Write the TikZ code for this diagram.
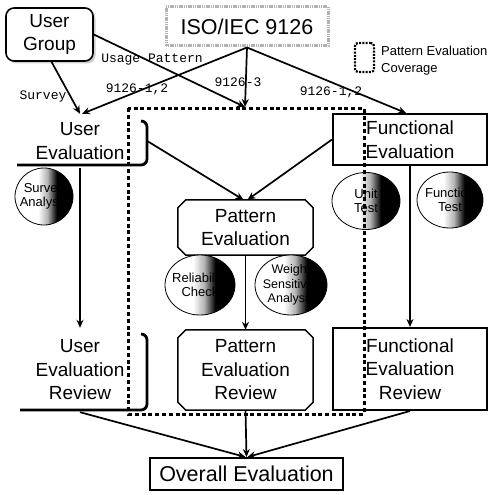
\documentclass[tikz,border=0pt]{standalone}
\usepackage{fontspec}
\setmainfont{Liberation Sans}
\newfontfamily\monofnt{Liberation Mono}
\usetikzlibrary{shapes.geometric,shapes.misc,arrows.meta,shadows}
\pgfdeclarehorizontalshading{ballshade}{100bp}{color(0bp)=(white); color(25bp)=(white); color(45bp)=(white); color(53bp)=(gray!60); color(61bp)=(black); color(75bp)=(black); color(100bp)=(black)}
\begin{document}
\begin{tikzpicture}[x=1pt,y=-1pt,
  big/.style={font=\fontsize{19}{23.5}\selectfont, align=center, inner sep=2pt},
  ugbox/.style={big, draw, line width=1.6pt, rounded corners=8pt, fill=white,
     minimum width=87pt, minimum height=53pt,
     drop shadow={shadow xshift=2.5pt, shadow yshift=-2.5pt, fill=gray!75}},
  isobox/.style={draw=gray!60, line width=3pt, dash pattern=on 1.2pt off 0.6pt,
     font=\fontsize{21.5}{25}\selectfont,
     minimum width=162pt, minimum height=39pt, inner sep=2pt},
  legendbox/.style={draw, line width=2.2pt, dash pattern=on 2pt off 1.3pt, rounded corners=3pt,
     minimum width=19pt, minimum height=29pt, inner sep=0pt},
  plainbox/.style={big, minimum width=134pt},
  pbox/.style={big, minimum width=135pt},
  pline/.style={line width=1.5pt},
  fbox/.style={big, draw, line width=2pt, minimum width=154pt},
  obox/.style={draw, line width=2pt, font=\fontsize{21.5}{25}\selectfont,
     minimum width=193pt, minimum height=32pt, inner sep=2pt},
  ushadow/.style={line width=2.8pt, rounded corners=6pt},
  ball/.style={ellipse, draw, line width=0.8pt, shade, shading=ballshade, inner sep=0pt},
  balltext/.style={font=\fontsize{13}{14.5}\selectfont, align=center, inner sep=0pt},
  lbl/.style={font=\monofnt\fontsize{13}{15}\selectfont, inner sep=1pt},
  conn/.style={line width=1.7pt, -{Stealth[length=8pt,width=7pt]}},
  coverage/.style={line width=3pt, dash pattern=on 4pt off 2.8pt}
]
\useasboundingbox (0,0) rectangle (491,495);

% nodes
\node[ugbox] (ug) at (49.5,34.5) {User\\Group};
\node[isobox] (iso) at (247,26.5) {ISO/IEC 9126};
\node[legendbox] (lg) at (364.5,57.5) {};
\node[anchor=west, align=left, font=\fontsize{13}{17}\selectfont, inner sep=0pt] (lgt) at (381,61) {Pattern Evaluation\\Coverage};

\node[plainbox, minimum height=54pt] (ue) at (80,141) {User\\Evaluation};
\node[plainbox, minimum height=84pt] (uer) at (80,370) {User\\Evaluation\\Review};
\draw[ushadow] (141,121) -- (147,121) -- (147,165) -- (17,165);
\draw[ushadow] (141,334) -- (147,334) -- (147,410) -- (20,410);

\node[pbox, minimum height=55pt] (pe) at (245.5,227.5) {Pattern\\Evaluation};
\node[pbox, minimum height=80pt] (per) at (245.5,370) {Pattern\\Evaluation\\Review};
\foreach \n in {pe,per}{
  \draw[pline] ([xshift=8pt]\n.north west) -- ([xshift=-8pt]\n.north east)
    -- ([yshift=-8pt]\n.north east) -- ([yshift=8pt]\n.south east)
    -- ([xshift=-8pt]\n.south east) -- ([xshift=8pt]\n.south west)
    -- ([yshift=8pt]\n.south west) -- ([yshift=-8pt]\n.north west) -- cycle;
}
\node[fbox, minimum height=51pt] (fe) at (410,139.5) {Functional\\Evaluation};
\node[fbox, minimum height=82pt] (fer) at (410,369) {Functional\\Evaluation\\Review};
\node[obox] (oe) at (246.5,474) {Overall Evaluation};

% ellipses
\node[ball, minimum width=58pt, minimum height=57pt] (sa) at (44,196.5) {};
\node[balltext] (sat) at (sa) {Survey\\Analysis};
\node[ball, minimum width=68pt, minimum height=57pt] (ut) at (366,201) {};
\node[balltext] (utt) at (ut) {Unit\\Test};
\node[ball, minimum width=66pt, minimum height=56pt] (ft) at (450,200) {};
\node[balltext] (ftt) at (ft) {Function\\Test};
\node[ball, minimum width=70pt, minimum height=60pt] (rc) at (200,285) {};
\node[balltext] (rct) at (rc) {Reliability\\Check};
\node[ball, minimum width=72pt, minimum height=60pt] (ws) at (291,285) {};
\node[balltext, font=\fontsize{12.5}{14.5}\selectfont] (wst) at (ws) {Weight\\Sensitivity\\Analysis};

% coverage target
\coordinate (pc) at (245,107);

% connectors
\draw[conn] (iso.south) -- ([xshift=2pt]ue.north);
\draw[conn] (iso.south) -- (pc);
\draw[conn] (iso.south) -- ([xshift=-4pt]fe.north);
\draw[conn] ([xshift=2pt]ug.south) -- (ue.north);
\draw[conn] (ug.east) -- (pc);
\draw[conn] (ue.east) -- ([xshift=-2pt]pe.north);
\draw[conn] (fe.west) -- ([xshift=2pt]pe.north);
\draw[conn] (ue.south) -- (uer.north);
\draw[conn] (pe.south) -- (per.north);
\draw[conn] (fe.south) -- (fer.north);
\draw[conn] (uer.south) -- ([xshift=-1pt]oe.north);
\draw[conn] (per.south) -- (oe.north);
\draw[conn] (fer.south) -- ([xshift=1pt]oe.north);

% labels
\node[lbl] (l1) at (43,97) {Survey};
\node[lbl] (l2) at (152,60) {Usage Pattern};
\node[lbl] (l3) at (137,89) {9126-1,2};
\node[lbl] (l4) at (238,82) {9126-3};
\node[lbl] (l5) at (331,92) {9126-1,2};

% coverage region
\draw[coverage] (128,108) rectangle (364,414);
\end{tikzpicture}
\end{document}
